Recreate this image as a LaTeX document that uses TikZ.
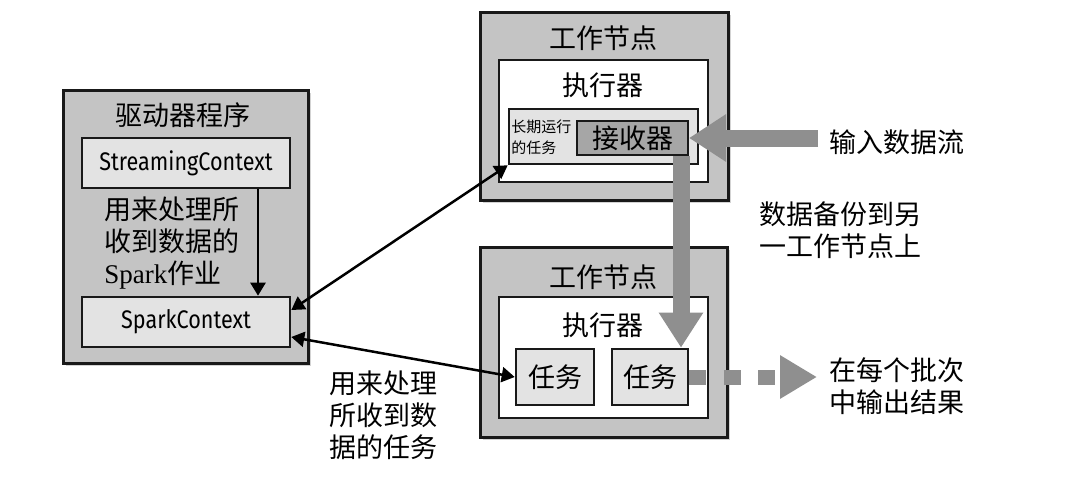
\documentclass[tikz,border=0pt]{standalone}
\usepackage{fontspec}
\setmainfont{Noto Sans CJK SC}
\newfontfamily\ctxfont[FakeStretch=0.85]{Fira Sans}
\newfontfamily\latinserif{Liberation Serif}
\usepackage{tikz}
\usetikzlibrary{arrows.meta,shadows,calc}

\begin{document}
\begin{tikzpicture}[x=0.5pt,y=-0.5pt,
  worker/.style={draw=black!90,line width=1.5pt,fill=black!23,
    drop shadow={shadow xshift=1.5pt,shadow yshift=-1.5pt,opacity=.35}},
  exec/.style={draw=black!90,line width=1.3pt,fill=white},
  job/.style={draw=black!90,line width=1.3pt,fill=black!11,inner sep=0pt},
  cjk/.style={font=\fontsize{13.5}{16}\selectfont},
  ctx/.style={font=\ctxfont\fontsize{12.7}{14}\selectfont},
  bigarrow/.style={draw=black!44,line width=8.5pt},
  thinarrow/.style={draw=black,line width=1.25pt,{Triangle[width=7.5pt,length=6.5pt]}-{Triangle[width=7.5pt,length=6.5pt]}}]
\useasboundingbox (0,0) rectangle (1082,482);
% -> driver
\node[worker,minimum width=122.5pt,minimum height=136.5pt] (driver) at (185.5,226.5) {};
\node[cjk] (drivertitle) at (183,115) {驱动器程序};
\node[job,ctx,minimum width=104pt,minimum height=25pt] (stream) at (186,163) {StreamingContext};
\node[job,ctx,minimum width=104pt,minimum height=25pt] (spark) at (186,322) {SparkContext};
\draw[-{Triangle[width=7.5pt,length=6.5pt]},line width=1.25pt] ([xshift=36pt]stream.south) -- ([xshift=36pt]spark.north);
\node[cjk,align=left,anchor=west,inner sep=0pt] (sparkjob) at (104,243) {用来处理所\\收到数据的\\{\latinserif Spark}作业};
% -> top worker
\node[worker,minimum width=124pt,minimum height=94pt] (workera) at (604,106) {};
\node[cjk] (workeratitle) at (603,38) {工作节点};
\node[exec,minimum width=104.5pt,minimum height=61pt] (execa) at (603.5,121) {};
\node[cjk] (execatitle) at (603,85) {执行器};
\node[job,minimum width=94.5pt,minimum height=27.5pt] (longtask) at (603.5,136.5) {};
\node[align=left,anchor=west,inner sep=0pt,font=\fontsize{7.5}{10.5}\selectfont] (longtext) at (511,137.5) {长期运行\\的任务};
\node[draw=black!90,line width=1pt,fill=black!35,minimum width=55.5pt,minimum height=17pt,inner sep=0pt,cjk] (receiver) at (632.5,138) {接收器};
% -> bottom worker
\node[worker,minimum width=123.5pt,minimum height=95pt] (workerb) at (603.5,342) {};
\node[cjk] (workerbtitle) at (603,277) {工作节点};
\node[exec,minimum width=104.5pt,minimum height=60.5pt] (execb) at (603.5,357.5) {};
\node[cjk] (execbtitle) at (603,325) {执行器};
\node[job,cjk,minimum width=39pt,minimum height=28pt] (taska) at (555,377) {任务};
\node[job,cjk,minimum width=38pt,minimum height=28pt] (taskb) at (650,377) {任务};
% -> gray arrows
\coordinate (instream) at (818,138);
\coordinate (outres) at (817,377);
\draw[bigarrow,-{Triangle[width=22.5pt,length=18.5pt]}] (instream) -- (receiver.east);
\draw[bigarrow,-{Triangle[width=21pt,length=17.5pt]}] ([xshift=24.25pt]receiver.south) -- ([xshift=24.25pt]receiver.south |- taskb.north);
\draw[bigarrow,line width=7.5pt,dash pattern=on 8.5pt off 8.75pt,-{Triangle[width=20.5pt,length=18.5pt]}] (taskb.east) -- (outres);
% -> black arrows
\draw[thinarrow] ([yshift=6pt]spark.east) -- (longtask.south west);
\draw[thinarrow] ([yshift=-7.5pt]spark.east) -- (taska.west);
% -> labels
\node[cjk,anchor=west] (inlabel) at (822,142) {输入数据流};
\node[cjk,anchor=west,align=left] (backuplabel) at (752,230) {数据备份到另\\一工作节点上};
\node[cjk,anchor=west,align=left] (outlabel) at (822,386) {在每个批次\\中输出结果};
\node[cjk,anchor=west,align=left] (tasklabel) at (322,415) {用来处理\\所收到数\\据的任务};
\end{tikzpicture}
\end{document}
